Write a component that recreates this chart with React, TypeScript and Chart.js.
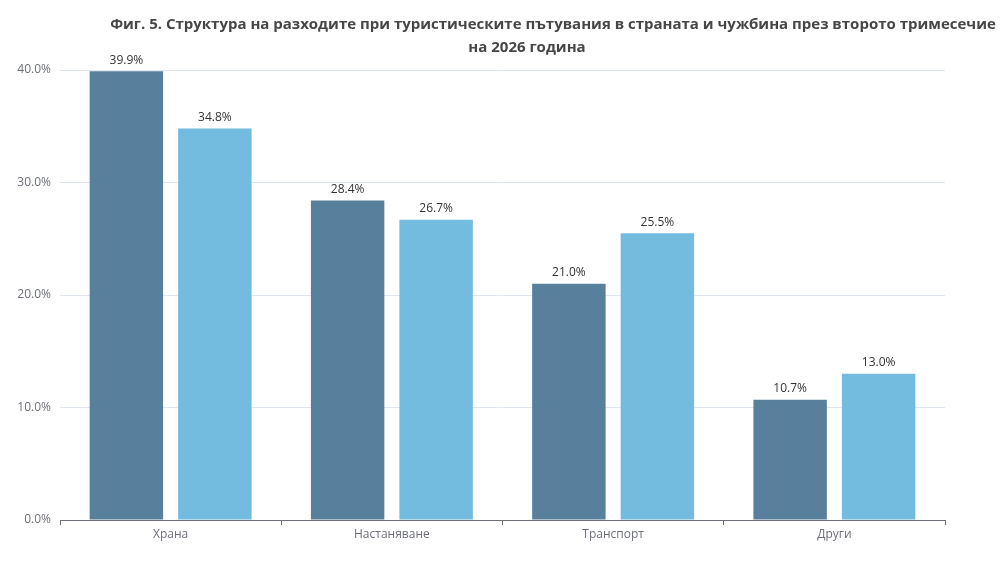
import React, { useEffect, useRef } from "react";
import Chart from "chart.js/auto";

const categories = ["Храна", "Настаняване", "Транспорт", "Други"];
const seriesA = [39.9, 28.4, 21.0, 10.7];
const seriesB = [34.8, 26.7, 25.5, 13.0];
const titleLines = [
  "Фиг. 5. Структура на разходите при туристическите пътувания в страната и чужбина през второто тримесечие",
  "на 2026 година",
];

const FONT = "'Open Sans', 'Noto Sans', sans-serif";

const labelPlugin = {
  id: "barLabels",
  afterDatasetsDraw(chart: any) {
    const ctx = chart.ctx;
    ctx.save();
    ctx.font = `12px ${FONT}`;
    ctx.fillStyle = "#333333";
    ctx.textAlign = "center";
    ctx.textBaseline = "bottom";
    chart.data.datasets.forEach((ds: any, i: number) => {
      const meta = chart.getDatasetMeta(i);
      meta.data.forEach((bar: any, j: number) => {
        ctx.fillText(ds.data[j].toFixed(1) + "%", bar.x, bar.y - 5);
      });
    });
    ctx.restore();
  },
};

const titlePlugin = {
  id: "twoLineTitle",
  afterDraw(chart: any) {
    const ctx = chart.ctx;
    ctx.save();
    ctx.font = `bold 15px ${FONT}`;
    ctx.fillStyle = "#464646";
    ctx.textAlign = "center";
    ctx.textBaseline = "middle";
    ctx.fillText(titleLines[0], 553, 25);
    ctx.fillText(titleLines[1], 527, 48);
    ctx.restore();
  },
};

export default function App() {
  const canvasRef = useRef<HTMLCanvasElement | null>(null);

  useEffect(() => {
    document.body.style.margin = "0";
    if (!canvasRef.current) return;

    const chart = new Chart(canvasRef.current, {
      type: "bar",
      data: {
        labels: categories,
        datasets: [
          {
            data: seriesA,
            backgroundColor: "#58809c",
            categoryPercentage: 0.8,
            barPercentage: 0.83,
          },
          {
            data: seriesB,
            backgroundColor: "#73bbdf",
            categoryPercentage: 0.8,
            barPercentage: 0.83,
          },
        ],
      },
      options: {
        animation: false,
        responsive: true,
        maintainAspectRatio: false,
        layout: { padding: { top: 70, right: 61, left: 0, bottom: 0 } },
        plugins: {
          legend: { display: false },
          tooltip: { enabled: false },
          title: { display: false },
        },
        scales: {
          x: {
            grid: {
              drawOnChartArea: false,
              drawTicks: true,
              tickLength: 5,
              color: "#6e7079",
            },
            border: { color: "#6e7079" },
            ticks: {
              color: "#6e7079",
              font: { family: FONT, size: 12 },
              padding: 2,
            },
            afterFit(scale: any) {
              scale.height = 41;
            },
          },
          y: {
            min: 0,
            max: 40,
            ticks: {
              stepSize: 10,
              color: "#6e7079",
              font: { family: FONT, size: 12 },
              padding: 9,
              callback: (v: any) => Number(v).toFixed(1) + "%",
            },
            grid: { color: "#e0e6f1", drawTicks: false },
            border: { display: false },
            afterFit(scale: any) {
              scale.width = 60;
            },
          },
        },
      },
      plugins: [labelPlugin, titlePlugin],
    });

    return () => {
      chart.destroy();
    };
  }, []);

  return (
    <div style={{ width: 1006, height: 561, position: "relative", background: "#fff" }}>
      <canvas ref={canvasRef}></canvas>
    </div>
  );
}
